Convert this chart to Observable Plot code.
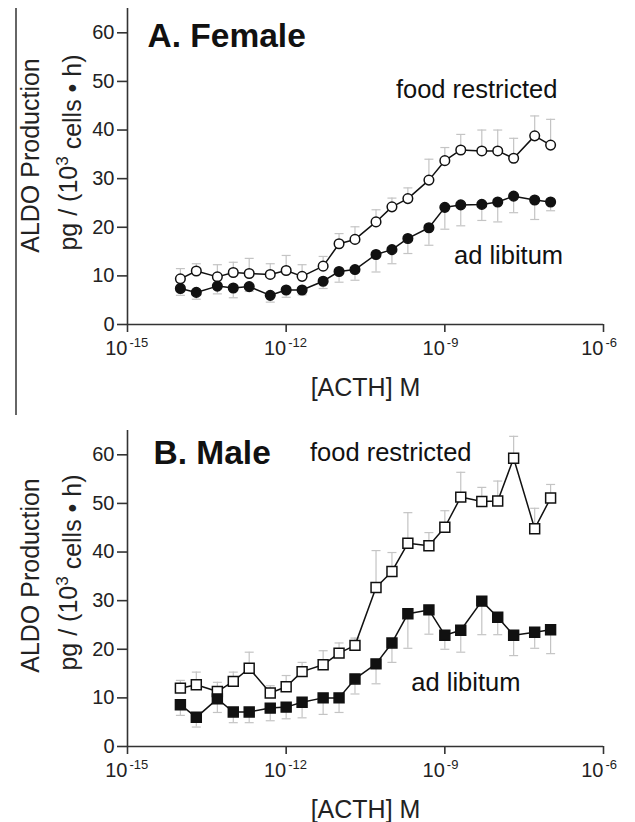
<!DOCTYPE html>
<html>
<head>
<meta charset="utf-8">
<script src="https://cdn.jsdelivr.net/npm/d3@7"></script>
<script src="https://cdn.jsdelivr.net/npm/@observablehq/plot@0.6"></script>
<style>
  body { margin: 0; background: white; }
  #wrap { position: relative; width: 635px; height: 822px; background: white; overflow: hidden; }
  #wrap > svg { position: absolute; left: 0; }
  #sep { position: absolute; left: 15px; top: 8px; width: 2px; height: 407px; background: #666; }
</style>
</head>
<body>
<div id="wrap"><div id="sep"></div></div>
<script>
// ACTH concentrations (M)
const conc = [1e-14, 2e-14, 5e-14, 1e-13, 2e-13, 5e-13, 1e-12, 2e-12, 5e-12, 1e-11, 2e-11,
              5e-11, 1e-10, 2e-10, 5e-10, 1e-9, 2e-9, 5e-9, 1e-8, 2e-8, 5e-8, 1e-7];

// Panel A: Female
const femaleFR    = [9.4, 11.0, 9.8, 10.7, 10.5, 10.3, 11.1, 9.9, 12.0, 16.6, 17.5, 21.1, 24.2, 25.9, 29.7, 33.7, 35.9, 35.7, 35.7, 34.2, 38.8, 36.9];
const femaleFRerr = [2.1, 1.5, 2.5, 2.1, 3.1, 2.2, 3.1, 2.4, 2.0, 2.1, 2.6, 2.5, 1.8, 2.2, 4.3, 2.7, 3.2, 4.3, 4.3, 4.1, 4.1, 5.3];
const femaleAL    = [7.4, 6.6, 7.9, 7.5, 7.8, 6.0, 7.1, 7.1, 8.9, 10.9, 11.3, 14.4, 15.4, 17.7, 19.9, 24.1, 24.6, 24.7, 25.2, 26.4, 25.6, 25.2];
const femaleALerr = [1.4, 1.4, 1.6, 2.0, 1.0, 1.4, 1.5, 1.0, 1.5, 2.2, 2.2, 3.6, 2.9, 3.1, 3.6, 4.5, 4.3, 3.3, 4.1, 3.4, 4.0, 1.8];

// Panel B: Male
const maleFR    = [12.0, 12.7, 11.3, 13.4, 16.1, 11.0, 12.3, 15.4, 16.8, 19.2, 20.8, 32.7, 36.0, 41.8, 41.3, 45.1, 51.3, 50.4, 50.5, 59.3, 44.8, 51.1];
const maleFRerr = [1.6, 2.6, 1.9, 1.9, 3.3, 1.5, 2.3, 1.9, 2.9, 2.1, 1.5, 7.6, 3.9, 6.3, 2.7, 3.4, 5.1, 2.9, 4.1, 4.5, 4.2, 2.8];
const maleAL    = [8.6, 6.0, 9.8, 7.1, 7.1, 7.9, 8.1, 9.1, 10.0, 10.0, 13.9, 17.0, 21.3, 27.3, 28.1, 22.9, 23.9, 29.9, 26.6, 22.9, 23.5, 24.0];
const maleALerr = [2.2, 2.0, 2.8, 2.2, 2.2, 2.6, 2.4, 3.2, 3.4, 3.0, 3.1, 4.1, 4.0, 7.1, 5.0, 2.9, 4.5, 6.9, 3.6, 4.2, 3.3, 4.9];

// Axes
const xTicks = [1e-15, 1e-12, 1e-9, 1e-6];
const xTickExp = ["-15", "-12", "-9", "-6"];
const yTicks = [0, 10, 20, 30, 40, 50, 60];

// Annotations (data coordinates)
const labelsA = [
  {text: "food restricted", c: 4e-9, v: 48.2},
  {text: "ad libitum", c: 1.6e-8, v: 14.2}
];
const labelsB = [
  {text: "food restricted", c: 9.5e-11, v: 60.4},
  {text: "ad libitum", c: 2.5e-9, v: 13.1}
];

const FONT = "Liberation Sans, Arial, Helvetica, sans-serif";
const capSymbol = { draw(ctx, size) { ctx.moveTo(-4.5, 0); ctx.lineTo(4.5, 0); } };

function rows(vals, errs) {
  return conc.map((c, i) => ({c, v: vals[i], e: errs[i]}));
}

function panel({title, titleDx, titleDy, fr, frErr, al, alErr, symbol, r, labels, height, marginTop, marginBottom, ylabDy}) {
  const frRows = rows(fr, frErr);
  const alRows = rows(al, alErr);
  const svg = Plot.plot({
    width: 635,
    height,
    marginLeft: 127,
    marginRight: 32,
    marginTop,
    marginBottom,
    style: {fontFamily: FONT, fontSize: "20px", color: "#222", background: "transparent", overflow: "visible"},
    x: {type: "log", domain: [1e-15, 1e-6]},
    y: {domain: [0, 65]},
    marks: [
      // axes lines
      Plot.ruleX([1e-15], {stroke: "#333", strokeWidth: 1.6}),
      Plot.ruleY([0], {stroke: "#333", strokeWidth: 1.6}),
      Plot.axisY({ticks: yTicks, tickSize: 10, tickPadding: 3, fontSize: 20, label: null, stroke: "#333", strokeWidth: 1.6}),
      Plot.axisX({ticks: xTicks, tickSize: 8, tickFormat: () => "", label: null, stroke: "#333", strokeWidth: 1.6}),
      Plot.text(xTicks, {x: d => d, frameAnchor: "bottom", lineAnchor: "middle", text: () => "10", textAnchor: "end", dy: 24, fontSize: 20}),
      Plot.text(xTicks, {x: d => d, frameAnchor: "bottom", lineAnchor: "middle", text: (d, i) => xTickExp[i], textAnchor: "start", dy: 18, dx: 2, fontSize: 13}),
      Plot.text(["[ACTH] M"], {frameAnchor: "bottom", lineAnchor: "middle", textAnchor: "middle", dy: 63, fontSize: 25}),
      // y label
      Plot.text(["ALDO Production"], {frameAnchor: "left", textAnchor: "middle", lineAnchor: "middle", rotate: -90, dx: -97, dy: ylabDy, fontSize: 25}),
      Plot.text(["pg / (10\u00B3 cells \u2022 h)"], {frameAnchor: "left", textAnchor: "middle", lineAnchor: "middle", rotate: -90, dx: -59, dy: ylabDy - 3, fontSize: 25, className: "ylab2"}),
      // title
      Plot.text([title], {frameAnchor: "top-left", textAnchor: "start", lineAnchor: "top", dx: titleDx, dy: titleDy, fontSize: 33.5, fontWeight: "bold", fill: "#111"}),
      // error bars
      Plot.ruleX(frRows, {x: "c", y1: "v", y2: d => d.v + d.e, stroke: "#c4c4c4", strokeWidth: 1.2}),
      Plot.dot(frRows, {x: "c", y: d => d.v + d.e, symbol: capSymbol, stroke: "#c4c4c4", fill: "none", strokeWidth: 1.2, r: 3}),
      Plot.ruleX(alRows, {x: "c", y1: "v", y2: d => d.v - d.e, stroke: "#c4c4c4", strokeWidth: 1.2}),
      Plot.dot(alRows, {x: "c", y: d => d.v - d.e, symbol: capSymbol, stroke: "#c4c4c4", fill: "none", strokeWidth: 1.2, r: 3}),
      // lines
      Plot.line(frRows, {x: "c", y: "v", stroke: "#111", strokeWidth: 1.5}),
      Plot.line(alRows, {x: "c", y: "v", stroke: "#111", strokeWidth: 1.5}),
      // points
      Plot.dot(frRows, {x: "c", y: "v", symbol, r, fill: "white", stroke: "#111", strokeWidth: 1.5}),
      Plot.dot(alRows, {x: "c", y: "v", symbol, r, fill: "#111", stroke: "#111", strokeWidth: 1.5}),
      // annotations
      Plot.text(labels, {x: "c", y: "v", text: "text", fontSize: 25.5, fill: "#111"})
    ]
  });
  // proper superscript for 10^3 in the y label
  svg.querySelectorAll("text").forEach(t => {
    if (t.textContent === "pg / (10\u00B3 cells \u2022 h)") {
      t.textContent = "";
      const ns = "http://www.w3.org/2000/svg";
      const a = document.createElementNS(ns, "tspan"); a.textContent = "pg / (10";
      const s = document.createElementNS(ns, "tspan"); s.textContent = "3"; s.setAttribute("dy", "-0.5em"); s.setAttribute("font-size", "17");
      const b = document.createElementNS(ns, "tspan"); b.textContent = " cells \u2022 h)"; b.setAttribute("dy", "0.5em");
      t.append(a, s, b);
    }
  });
  return svg;
}

const wrap = document.getElementById("wrap");

const a = panel({
  title: "A. Female", titleDx: 20, titleDy: 15,
  fr: femaleFR, frErr: femaleFRerr, al: femaleAL, alErr: femaleALerr,
  symbol: "circle", r: 4.8, labels: labelsA,
  height: 410, marginTop: 8, marginBottom: 86, ylabDy: -11
});
a.style.top = "0px";
wrap.appendChild(a);

const b = panel({
  title: "B. Male", titleDx: 26, titleDy: 10,
  fr: maleFR, frErr: maleFRerr, al: maleAL, alErr: maleALerr,
  symbol: "square", r: 5.6, labels: labelsB,
  height: 432, marginTop: 40, marginBottom: 76, ylabDy: -13
});
b.style.top = "390px";
wrap.appendChild(b);
</script>
</body>
</html>
